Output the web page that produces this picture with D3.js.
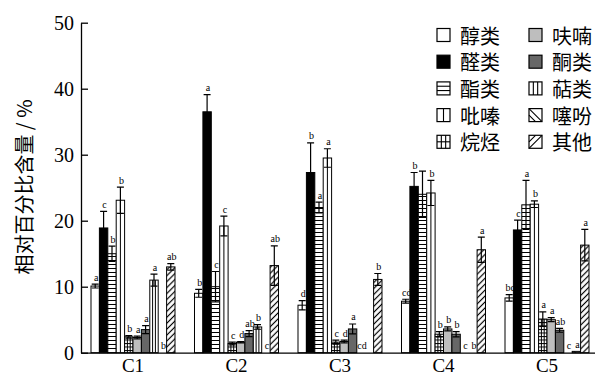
<!DOCTYPE html>
<html>
<head>
<meta charset="utf-8">
<script src="https://cdn.jsdelivr.net/npm/d3@7/dist/d3.min.js"></script>
<style>
  html, body { margin: 0; padding: 0; background: #fff; }
  svg { display: block; }
</style>
</head>
<body>
<script>
// Volatile compound classes (relative content, %) for samples C1–C5
const categories = ["C1", "C2", "C3", "C4", "C5"];
const seriesNames = ["醇类", "醛类", "酯类", "吡嗪", "烷烃", "呋喃", "酮类", "萜类", "噻吩", "其他"];
const yTicks = [0, 10, 20, 30, 40, 50];

// Means, standard deviations and significance letters, one array per sample,
// in the order of seriesNames
const meanC1 = [10.1, 18.9, 15.0, 23.1, 2.4, 2.3, 3.5, 11.0, 0, 13.0];
const meanC2 = [9.0, 36.5, 10.0, 19.2, 1.4, 1.6, 2.9, 3.9, 0, 13.2];
const meanC3 = [7.2, 27.3, 22.0, 29.5, 1.6, 1.7, 3.6, 0, 0, 11.1];
const meanC4 = [7.8, 25.2, 24.0, 24.2, 2.8, 3.6, 2.8, 0, 0, 15.6];
const meanC5 = [8.3, 18.6, 22.4, 22.5, 5.1, 5.0, 3.4, 0, 0.2, 16.3];

const sdC1 = [0.3, 2.5, 1.15, 2.0, 0.2, 0.2, 0.6, 0.9, 0, 0.5];
const sdC2 = [0.6, 2.6, 2.3, 1.5, 0.2, 0.1, 0.45, 0.35, 0, 3.0];
const sdC3 = [0.7, 4.5, 0.8, 1.4, 0.3, 0.2, 0.75, 0, 0, 0.9];
const sdC4 = [0.3, 2.1, 3.5, 1.9, 0.4, 0.3, 0.4, 0, 0, 1.9];
const sdC5 = [0.5, 1.5, 3.7, 0.5, 1.1, 0.3, 0.3, 0, 0, 2.4];

const sigC1 = ["a", "c", "b", "b", "b", "a", "a", "a", "b", "ab"];
const sigC2 = ["b", "a", "c", "c", "c", "d", "ab", "b", "c", "ab"];
const sigC3 = ["d", "b", "a", "a", "c", "d", "a", "cd", "", "b"];
const sigC4 = ["cd", "b", "", "b", "b", "b", "b", "c", "b", "a"];
const sigC5 = ["bc", "c", "a", "b", "a", "a", "ab", "c", "a", "a"];

const means = [meanC1, meanC2, meanC3, meanC4, meanC5];
const sds = [sdC1, sdC2, sdC3, sdC4, sdC5];
const sigs = [sigC1, sigC2, sigC3, sigC4, sigC5];

// Fill style per compound class
const styles = {
  "醇类": { fill: "#ffffff" },
  "醛类": { fill: "#000000" },
  "酯类": { fill: "url(#hl)", deco: "hlines" },
  "吡嗪": { fill: "#ffffff", deco: "mid" },
  "烷烃": { fill: "url(#gridh)", deco: "thirds" },
  "呋喃": { fill: "#bebebe" },
  "酮类": { fill: "#676767" },
  "萜类": { fill: "#ffffff", deco: "thirds" },
  "噻吩": { fill: "url(#bslash)", deco: "bslash" },
  "其他": { fill: "url(#slash)", deco: "slash" }
};

const W = 595, H = 374;
const serif = "'Liberation Serif', 'Times New Roman', serif";
const cjk = "'Noto Sans CJK SC', 'Noto Sans', sans-serif";

const svg = d3.select("body").append("svg")
  .attr("width", W).attr("height", H)
  .attr("viewBox", `0 0 ${W} ${H}`);

// Hatch patterns
const defs = svg.append("defs");
const hl = defs.append("pattern").attr("id", "hl")
  .attr("patternUnits", "userSpaceOnUse").attr("width", 8).attr("height", 4);
hl.append("rect").attr("width", 8).attr("height", 4).attr("fill", "#fff");
hl.append("path").attr("d", "M0,0.5H8").attr("stroke", "#000").attr("stroke-width", 1);

const gh = defs.append("pattern").attr("id", "gridh")
  .attr("patternUnits", "userSpaceOnUse").attr("width", 8).attr("height", 3.5);
gh.append("rect").attr("width", 8).attr("height", 3.5).attr("fill", "#fff");
gh.append("path").attr("d", "M0,0.5H8").attr("stroke", "#000").attr("stroke-width", 1);

function hatch(id, angle) {
  const s = 4.2;
  const p = defs.append("pattern").attr("id", id)
    .attr("patternUnits", "userSpaceOnUse").attr("width", s).attr("height", s)
    .attr("patternTransform", `rotate(${angle})`);
  p.append("rect").attr("width", s).attr("height", s).attr("fill", "#fff");
  p.append("path").attr("d", `M${s / 2},0V${s}`).attr("stroke", "#000").attr("stroke-width", 1.2);
}
hatch("slash", 45);
hatch("bslash", -45);

// Scales
const x0 = d3.scaleBand().domain(categories).range([81, 599])
  .paddingInner(0.1884).paddingOuter(0.0966);
const x1 = d3.scaleBand().domain(seriesNames).range([0, x0.bandwidth()]);
const y = d3.scaleLinear().domain([0, 50]).range([352.7, 22.7]);
const bw = x1.bandwidth();

// Bars
const rows = [];
categories.forEach((c, ci) => {
  seriesNames.forEach((s, si) => {
    rows.push({ cat: c, name: s, v: means[ci][si], sd: sds[ci][si], sig: sigs[ci][si] });
  });
});

const gBars = svg.append("g");
rows.forEach(d => {
  const bx = x0(d.cat) + x1(d.name);
  const top = y(d.v), base = y(0);
  const st = styles[d.name];
  if (d.v <= 0) return;
  const g = gBars.append("g");
  g.append("rect")
    .attr("x", bx).attr("y", top)
    .attr("width", bw).attr("height", base - top)
    .attr("fill", st.fill)
    .attr("stroke", "#000").attr("stroke-width", 1);
  if (st.deco === "mid") {
    g.append("line").attr("x1", bx + bw / 2).attr("x2", bx + bw / 2)
      .attr("y1", top).attr("y2", base).attr("stroke", "#000").attr("stroke-width", 1);
  }
  if (st.deco === "thirds") {
    [1, 2].forEach(k => {
      g.append("line").attr("x1", bx + bw * k / 3).attr("x2", bx + bw * k / 3)
        .attr("y1", top).attr("y2", base).attr("stroke", "#000").attr("stroke-width", 1);
    });
  }
});

// Error bars
const cap = 3.5;
const gErr = svg.append("g").attr("stroke", "#000").attr("stroke-width", 1.2).attr("fill", "none");
rows.filter(d => d.sd > 0).forEach(d => {
  const cx = x0(d.cat) + x1(d.name) + bw / 2;
  const yt = y(d.v + d.sd), yb = y(Math.max(0, d.v - d.sd));
  gErr.append("path")
    .attr("d", `M${cx},${yt}V${yb}M${cx - cap},${yt}H${cx + cap}M${cx - cap},${yb}H${cx + cap}`);
});

// Significance letters
svg.append("g")
  .selectAll("text")
  .data(rows.filter(d => d.sig))
  .join("text")
  .attr("x", d => x0(d.cat) + x1(d.name) + bw / 2 + 1)
  .attr("y", d => y(d.v + d.sd) - 3.5)
  .attr("text-anchor", "middle")
  .attr("font-family", serif)
  .attr("font-size", 10)
  .attr("fill", "#000")
  .text(d => d.sig);

// Axes
const yAxis = d3.axisLeft(y).tickValues(yTicks).tickFormat(d3.format("d"))
  .tickSizeInner(-7).tickSizeOuter(0).tickPadding(7);
const gy = svg.append("g").attr("transform", "translate(81,0)").call(yAxis);
gy.select(".domain").attr("stroke-width", 1.3);
gy.selectAll(".tick line").attr("stroke-width", 1.3);
gy.selectAll("text").attr("font-family", serif).attr("font-size", 20).attr("fill", "#000");

const xAxis = d3.axisBottom(x0).tickSize(0).tickPadding(6);
const gx = svg.append("g").attr("transform", `translate(0,${y(0)})`).call(xAxis);
gx.select(".domain").attr("stroke-width", 1.3);
gx.selectAll("text").attr("font-family", serif).attr("font-size", 19).attr("fill", "#000");

// Y axis title
svg.append("text")
  .attr("transform", "translate(23,187) rotate(-90)")
  .attr("text-anchor", "middle")
  .attr("dominant-baseline", "central")
  .attr("font-family", cjk)
  .attr("font-size", 20)
  .attr("fill", "#000")
  .text("相对百分比含量 / %");

// Legend, two columns of five
const sw = 13;
const legend = svg.append("g");
seriesNames.forEach((name, i) => {
  const col = Math.floor(i / 5), row = i % 5;
  const sx = col === 0 ? 437 : 529;
  const cy = 35 + row * 26.7;
  const sy = cy - sw / 2;
  const st = styles[name];
  const g = legend.append("g");
  const flat = (st.fill.startsWith("url")) ? "#fff" : st.fill;
  g.append("rect").attr("x", sx).attr("y", sy).attr("width", sw).attr("height", sw)
    .attr("fill", flat).attr("stroke", "#000").attr("stroke-width", 1.2);
  const ln = (a, b, c, d) => g.append("line")
    .attr("x1", a).attr("y1", b).attr("x2", c).attr("y2", d)
    .attr("stroke", "#000").attr("stroke-width", 1.1);
  if (st.deco === "hlines") { ln(sx, sy + sw / 3, sx + sw, sy + sw / 3); ln(sx, sy + 2 * sw / 3, sx + sw, sy + 2 * sw / 3); }
  if (st.deco === "mid") { ln(sx + sw / 2, sy, sx + sw / 2, sy + sw); }
  if (name === "烷烃") {
    ln(sx + sw / 3, sy, sx + sw / 3, sy + sw); ln(sx + 2 * sw / 3, sy, sx + 2 * sw / 3, sy + sw);
    ln(sx, sy + sw / 2, sx + sw, sy + sw / 2);
  } else if (st.deco === "thirds") {
    ln(sx + sw / 3, sy, sx + sw / 3, sy + sw); ln(sx + 2 * sw / 3, sy, sx + 2 * sw / 3, sy + sw);
  }
  if (st.deco === "bslash") { ln(sx, sy, sx + sw, sy + sw); ln(sx, sy + sw / 2, sx + sw / 2, sy + sw); }
  if (st.deco === "slash") { ln(sx, sy + sw, sx + sw, sy); ln(sx, sy + sw / 2, sx + sw / 2, sy); }
  g.append("text").attr("x", sx + 23).attr("y", cy)
    .attr("dominant-baseline", "central")
    .attr("font-family", cjk).attr("font-size", 20).attr("fill", "#000")
    .text(name);
});
</script>
</body>
</html>
